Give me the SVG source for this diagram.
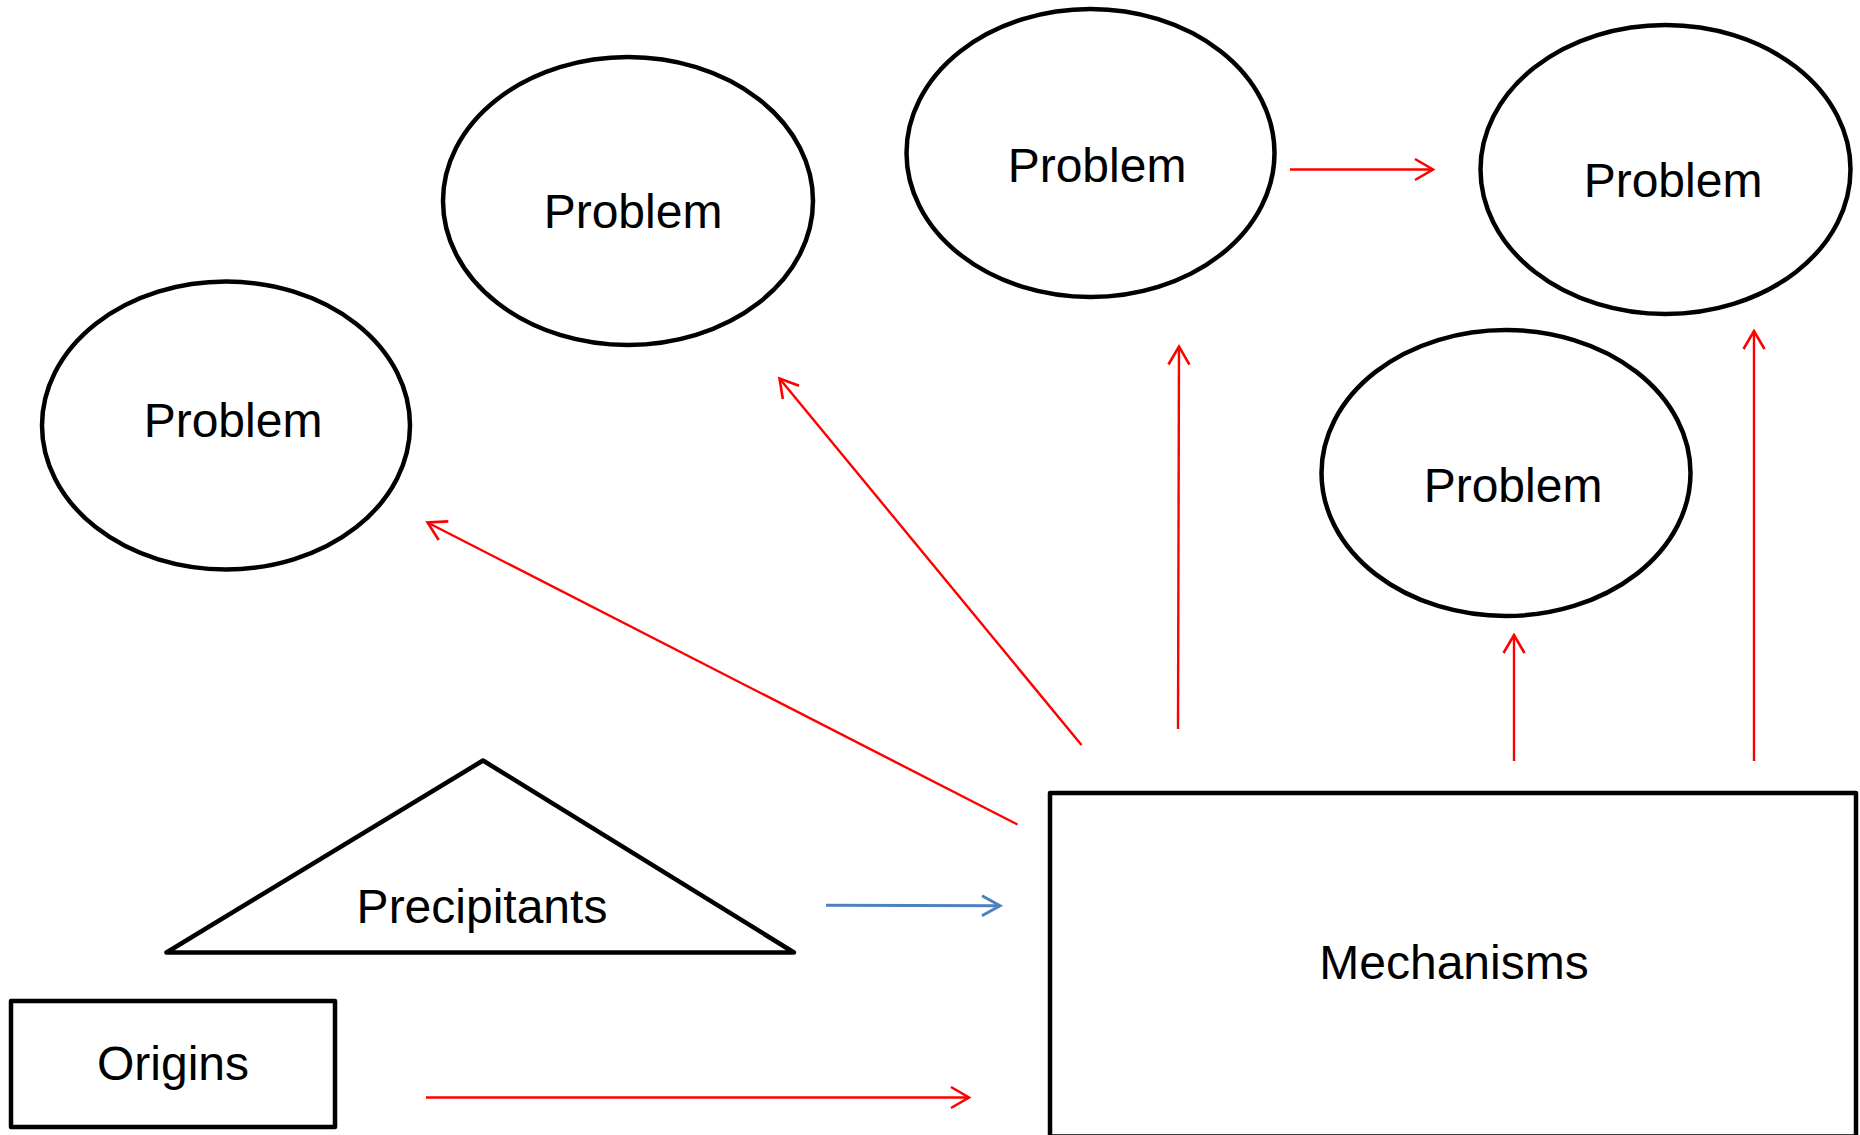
<svg xmlns="http://www.w3.org/2000/svg" width="1860" height="1135" viewBox="0 0 1860 1135">
<style>
  .shape { fill: #ffffff; stroke: #000000; stroke-width: 4.5; stroke-linejoin: round; }
  .lbl { font-family: "Liberation Sans", Arial, sans-serif; font-size: 48px; fill: #000000; text-anchor: middle; }
  .red { stroke: #FF0000; stroke-width: 2.4; fill: none; marker-end: url(#arRed); }
  .blue { stroke: #4F81BD; stroke-width: 3; fill: none; marker-end: url(#arBlue); }
</style>
<defs>
  <marker id="arRed" markerUnits="userSpaceOnUse" viewBox="-22 -14 26 28" markerWidth="26" markerHeight="28" refX="0" refY="0" orient="auto">
    <path d="M-18,-10.5 L0,0 L-18,10.5" fill="none" stroke="#FF0000" stroke-width="2.6"/>
  </marker>
  <marker id="arBlue" markerUnits="userSpaceOnUse" viewBox="-22 -14 26 28" markerWidth="26" markerHeight="28" refX="0" refY="0" orient="auto">
    <path d="M-18,-10 L0,0 L-18,10" fill="none" stroke="#4F81BD" stroke-width="3"/>
  </marker>
</defs>
<rect x="0" y="0" width="1860" height="1135" fill="#ffffff"/>

<g id="problem1">
  <ellipse class="shape" cx="226" cy="425.5" rx="184" ry="144"/>
  <text class="lbl" x="233" y="437">Problem</text>
</g>
<g id="problem2">
  <ellipse class="shape" cx="628" cy="201" rx="185" ry="144"/>
  <text class="lbl" x="633" y="228">Problem</text>
</g>
<g id="problem3">
  <ellipse class="shape" cx="1090.5" cy="153" rx="184" ry="144"/>
  <text class="lbl" x="1097" y="182">Problem</text>
</g>
<g id="problem4">
  <ellipse class="shape" cx="1665.5" cy="169.5" rx="185" ry="144.5"/>
  <text class="lbl" x="1673" y="197">Problem</text>
</g>
<g id="problem5">
  <ellipse class="shape" cx="1506" cy="473" rx="184.5" ry="143"/>
  <text class="lbl" x="1513" y="502">Problem</text>
</g>
<g id="precipitants">
  <polygon class="shape" points="483,760.5 166.5,952.5 794,952.5"/>
  <text class="lbl" x="482" y="923">Precipitants</text>
</g>
<g id="origins">
  <rect class="shape" x="11" y="1001" width="324" height="126" stroke-width="5.2"/>
  <text class="lbl" x="173" y="1080">Origins</text>
</g>
<g id="mechanisms">
  <rect class="shape" x="1050" y="793" width="806" height="343.5" stroke-width="4.5"/>
  <text class="lbl" x="1454" y="979">Mechanisms</text>
</g>

<g id="connectors">
  <line class="red" x1="1290" y1="169.5" x2="1433" y2="169.5"/>
  <line class="red" x1="1017.5" y1="824.5" x2="427.5" y2="522.5"/>
  <line class="red" x1="1081.5" y1="745" x2="779.5" y2="378.5"/>
  <line class="red" x1="1178" y1="729" x2="1179" y2="346.5"/>
  <line class="red" x1="1514" y1="761" x2="1514" y2="635"/>
  <line class="red" x1="1754" y1="761" x2="1754" y2="331"/>
  <line class="red" x1="426" y1="1097.5" x2="969" y2="1097.5"/>
  <line class="blue" x1="826" y1="905.3" x2="1000" y2="905.8"/>
</g>
</svg>
